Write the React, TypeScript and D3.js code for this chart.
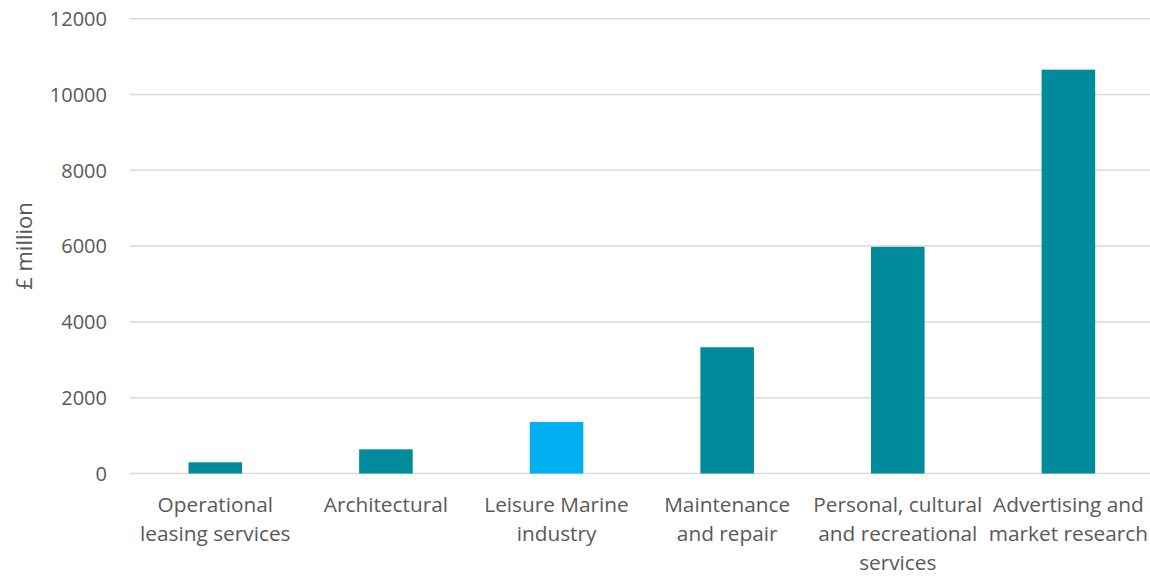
import React from "react";
import * as d3 from "d3";

const categories: string[][] = [
  ["Operational", "leasing services"],
  ["Architectural"],
  ["Leisure Marine", "industry"],
  ["Maintenance", "and repair"],
  ["Personal, cultural", "and recreational", "services"],
  ["Advertising and", "market research"],
];
const values: number[] = [296, 638, 1360, 3330, 5980, 10655];
const highlight: boolean[] = [false, false, true, false, false, false];
const yTicks: number[] = [0, 2000, 4000, 6000, 8000, 10000, 12000];
const yLabel = "£ million";

const W = 1150;
const H = 576;
const left = 130;
const right = 1153.7;
const top = 18.7;
const bottom = 473.5;
const FONT = "'Open Sans', sans-serif";
const TEXT = "#595959";

export default function App() {
  const x = d3
    .scaleBand<number>()
    .domain(values.map((_, i) => i))
    .range([left, right])
    .padding(0);
  const y = d3.scaleLinear().domain([0, 12000]).range([bottom, top]);
  const barW = x.bandwidth() * 0.314;

  return (
    <svg
      width={W}
      height={H}
      style={{ position: "absolute", left: 0, top: 0, background: "#fff" }}
    >
      {yTicks.map((t) => (
        <g key={t}>
          <line
            x1={left}
            x2={W}
            y1={y(t)}
            y2={y(t)}
            stroke="#D9D9D9"
            strokeWidth={1.5}
          />
          <text
            x={107}
            y={y(t)}
            dy="0.36em"
            textAnchor="end"
            fontFamily={FONT}
            fontSize={20}
            fill={TEXT}
          >
            {t}
          </text>
        </g>
      ))}
      <text
        transform={`translate(32, ${246}) rotate(-90)`}
        textAnchor="middle"
        fontFamily={FONT}
        fontSize={22}
        fill={TEXT}
      >
        {yLabel}
      </text>
      {values.map((v, i) => (
        <rect
          key={i}
          x={(x(i) as number) + x.bandwidth() / 2 - barW / 2}
          y={y(v)}
          width={barW}
          height={y(0) - y(v)}
          fill={highlight[i] ? "#00B0F0" : "#008B9A"}
        />
      ))}
      {categories.map((lines, i) => (
        <text
          key={i}
          x={(x(i) as number) + x.bandwidth() / 2}
          y={512}
          textAnchor="middle"
          fontFamily={FONT}
          fontSize={20.8}
          fill={TEXT}
        >
          {lines.map((l, j) => (
            <tspan
              key={j}
              x={(x(i) as number) + x.bandwidth() / 2}
              y={512 + j * 29}
            >
              {l}
            </tspan>
          ))}
        </text>
      ))}
    </svg>
  );
}
